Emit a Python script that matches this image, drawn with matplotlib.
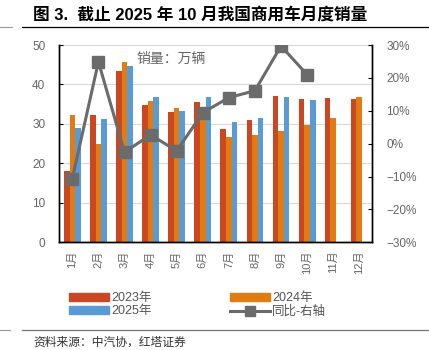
import matplotlib
matplotlib.use("Agg")
import matplotlib.pyplot as plt
from matplotlib.ticker import FuncFormatter
from matplotlib.lines import Line2D
from matplotlib.patches import Patch
import numpy as np

plt.rcParams['font.family'] = ['Liberation Sans', 'Noto Sans CJK SC', 'DejaVu Sans']
plt.rcParams['axes.unicode_minus'] = True

months = ['1月', '2月', '3月', '4月', '5月', '6月', '7月', '8月', '9月', '10月', '11月', '12月']
sales_2023 = [18.0, 32.3, 43.3, 34.7, 33.0, 35.5, 28.6, 30.9, 37.0, 36.4, 36.5, 36.3]
sales_2024 = [32.2, 25.0, 45.8, 35.7, 34.0, 33.0, 26.7, 27.1, 28.3, 29.7, 31.4, 36.7]
sales_2025 = [29.0, 31.2, 44.8, 36.7, 33.4, 36.8, 30.6, 31.5, 36.7, 36.0]
yoy = [-10.6, 24.9, -2.6, 2.7, -2.2, 9.4, 14.0, 16.1, 29.7, 21.0]

c23 = '#CB4721'
c24 = '#E07C12'
c25 = '#5B9BD5'
cline = '#6B6B6B'
tick_col = '#666666'

fig = plt.figure(figsize=(4.29, 3.5), dpi=100)
ax = fig.add_axes([59.3/429, 1-242.3/350, (372.3-59.3)/429, (242.3-45)/350])
ax2 = ax.twinx()

x = np.arange(len(months))
w = 0.215
ax.bar(x[:len(sales_2023)] - w, sales_2023, w, color=c23, zorder=2)
ax.bar(x[:len(sales_2024)], sales_2024, w, color=c24, zorder=2)
ax.bar(x[:len(sales_2025)] + w, sales_2025, w, color=c25, zorder=2)

ax.set_xlim(-0.5, len(months) - 0.5)
ax.set_ylim(0, 50)
ax.set_yticks(range(0, 51, 10))
ax.grid(axis='y', color='#D9D9D9', linewidth=0.8, zorder=0)
ax.set_axisbelow(True)
ax.set_xticks(x)
ax.set_xticklabels(months, rotation=90, fontsize=8, color=tick_col)
ax.tick_params(axis='x', length=0, pad=6)
ax.tick_params(axis='y', length=3, direction='in', labelsize=8.5, colors=tick_col, pad=10)
ax.tick_params(axis='y', color='black')
for s in ['top']:
    ax.spines[s].set_visible(False)
    ax2.spines[s].set_visible(False)
for s in ['left', 'bottom', 'right']:
    ax.spines[s].set_color('black')
    ax2.spines[s].set_color('black')
    ax.spines[s].set_linewidth(1.0)
    ax2.spines[s].set_linewidth(1.0)

ax2.plot(x[:len(yoy)], yoy, color=cline, linewidth=2.2, marker='s', markersize=8,
         markerfacecolor=cline, markeredgecolor=cline, zorder=5)
ax2.set_ylim(-30, 30)
ax2.set_yticks(range(-30, 31, 10))
ax2.yaxis.set_major_formatter(FuncFormatter(lambda v, p: f"{int(v)}%".replace('-', '\u2212')))
ax2.tick_params(axis='y', length=3, direction='in', labelsize=8.5, labelcolor=tick_col, color='black', pad=10)

ax.text(0.245, 0.93, '销量：万辆', transform=ax.transAxes, fontsize=10, color='#666666', va='center', ha='left')

# Title
fig.text(33/429, 1-15/350, '图 3.  截止 2025 年 10 月我国商用车月度销量', fontsize=12, fontweight='bold',
         va='center', ha='left', color='black')
fig.add_artist(Line2D([22/429, 1.0], [1-26.5/350, 1-26.5/350], color='black', linewidth=0.9))
fig.add_artist(Line2D([0, 12/429], [1-26.5/350, 1-26.5/350], color='#999999', linewidth=0.8))

# Legend (column-major order so rows read 2023/2024, 2025/同比)
h23 = Patch(color=c23, label='2023年')
h24 = Patch(color=c24, label='2024年')
h25 = Patch(color=c25, label='2025年')
hl = Line2D([0], [0], color=cline, linewidth=2.2, marker='s', markersize=7, label='同比-右轴')
leg = fig.legend(handles=[h23, h25, h24, hl], loc='center left', bbox_to_anchor=(63/429, 1-305/350), ncol=2,
                 frameon=False, fontsize=9, handlelength=3.2, handleheight=0.6,
                 columnspacing=6.2, labelspacing=0.1, handletextpad=0.2, borderpad=0)
for t in leg.get_texts():
    t.set_color('#555555')

fig.add_artist(Line2D([22/429, 1.0], [1-329.5/350, 1-329.5/350], color='#777777', linewidth=0.9))
fig.add_artist(Line2D([0, 10/429], [1-329.5/350, 1-329.5/350], color='#999999', linewidth=0.8))
fig.text(33/429, 1-343/350, '资料来源：中汽协，红塔证券', fontsize=8.5, va='center', ha='left', color='#333333')

fig.savefig('out.png', dpi=100)
